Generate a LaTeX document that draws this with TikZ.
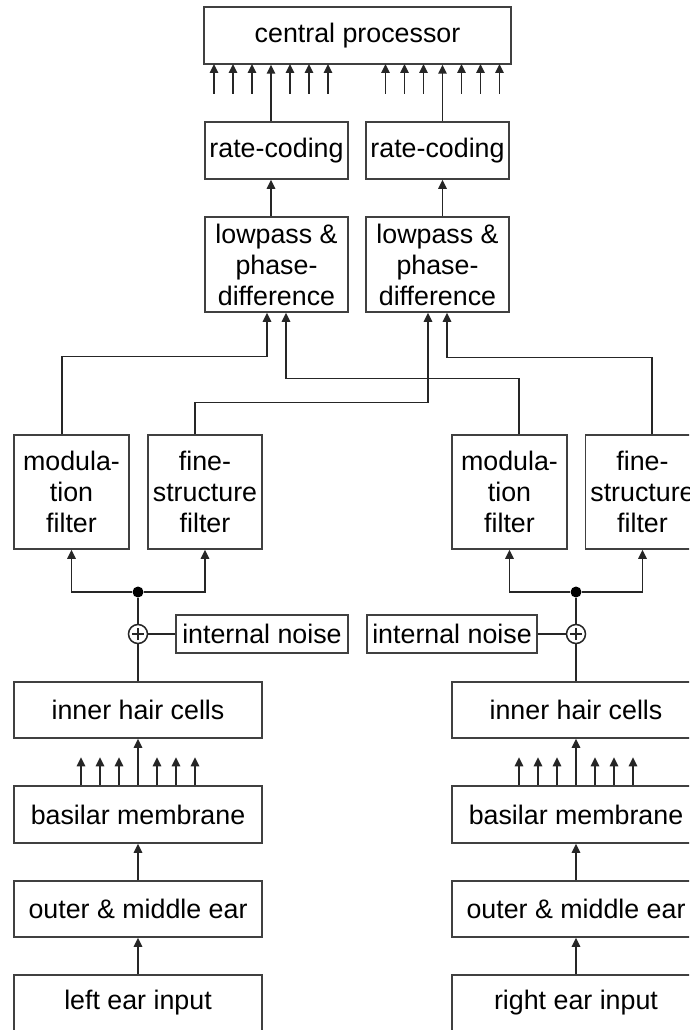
\documentclass[tikz,border=0pt]{standalone}
\usepackage{fontspec}
\setmainfont{Liberation Sans}
\usetikzlibrary{arrows.meta}

\begin{document}
\begin{tikzpicture}[x=1pt,y=-1pt,line width=1.5pt,
  every node/.style={font=\fontsize{26.8}{31}\selectfont,inner sep=0pt},
  block/.style={draw=black!75,minimum height=#1,align=center},
  block/.default=57pt,
  sig/.style={draw=black!85,-{Triangle[length=9pt,width=8.5pt]}},
  wire/.style={draw=black!85},
  adder/.style={circle,draw=black!85,minimum size=19pt,
    path picture={\draw[line width=1.4pt] (path picture bounding box.center) ++(-6pt,0) -- ++(12pt,0)
      (path picture bounding box.center) ++(0,-6pt) -- ++(0,12pt);}},
  joint/.style={circle,fill=black,minimum size=11pt}]
\path[use as bounding box,fill=white] (0,0) rectangle (689,1030);
\clip (0,0) rectangle (689,1030);

\node[block,minimum width=307pt] (cp) at (357.5,35.5) {central processor};
\node[block,minimum width=143pt] (rcL) at (276.5,150.5) {rate-coding};
\node[block,minimum width=143pt] (rcR) at (437.5,150.5) {rate-coding};
\node[block=95pt,minimum width=143pt] (lpL) at (276.5,264.5) {lowpass \&\\phase-\\difference};
\node[block=95pt,minimum width=143pt] (lpR) at (437.5,264.5) {lowpass \&\\phase-\\difference};
\node[block=114pt,minimum width=115pt] (modL) at (71.5,492) {modula-\\tion\\filter};
\node[block=114pt,minimum width=114pt] (fsL) at (205,492) {fine-\\structure\\filter};
\node[block=114pt,minimum width=115pt] (modR) at (509.5,492) {modula-\\tion\\filter};
\node[block=114pt,minimum width=114pt] (fsR) at (642.5,492) {fine-\\structure\\filter};
\node[joint] (dotL) at (138,592) {};
\node[joint] (dotR) at (576,592) {};
\node[adder] (addL) at (138,634) {};
\node[adder] (addR) at (576,634) {};
\node[block=38pt,minimum width=172pt] (noiseL) at (262,634) {internal noise};
\node[block=38pt,minimum width=170pt] (noiseR) at (452,634) {internal noise};
\node[block=56pt,minimum width=248pt] (ihcL) at (138,710) {inner hair cells};
\node[block=56pt,minimum width=248pt] (ihcR) at (576,710) {inner hair cells};
\node[block,minimum width=248pt] (bmL) at (138,814.5) {basilar membrane};
\node[block,minimum width=248pt] (bmR) at (576,814.5) {basilar membrane};
\node[block=56pt,minimum width=248pt] (omL) at (138,909) {outer \& middle ear};
\node[block=56pt,minimum width=248pt] (omR) at (576,909) {outer \& middle ear};
\node[block=56pt,minimum width=248pt] (inL) at (138,1003) {left ear input};
\node[block=56pt,minimum width=248pt] (inR) at (576,1003) {right ear input};
\coordinate (tapL) at (271,94);
\coordinate (tapR) at (442.5,94);

\draw[sig] (inL) -- (omL);
\draw[sig] (omL) -- (bmL);
\draw[sig] (bmL) -- (ihcL);
\draw[sig] (inR) -- (omR);
\draw[sig] (omR) -- (bmR);
\draw[sig] (bmR) -- (ihcR);
\foreach \k in {-3,-2,-1,1,2,3} {
  \draw[sig] ([xshift=\k*19]bmL.north) -- ++(0,-28);
  \draw[sig] ([xshift=\k*19]bmR.north) -- ++(0,-28);
  \draw[sig] ([xshift=\k*19]tapL) -- ++(0,-30);
  \draw[sig] ([xshift=\k*19]tapR) -- ++(0,-30);
}
\draw[wire] (ihcL) -- (addL) -- (dotL);
\draw[wire] (ihcR) -- (addR) -- (dotR);
\draw[wire] (noiseL) -- (addL);
\draw[wire] (noiseR) -- (addR);
\draw[sig] (dotL) -| (modL);
\draw[sig] (dotL) -| (fsL);
\draw[sig] (dotR) -| (modR);
\draw[sig] (dotR) -| (fsR);
\draw[sig] ([xshift=-9.5]modL.north) -- ++(0,-78) -| ([xshift=-9.5]lpL.south);
\draw[sig] ([xshift=9.5]modR.north) -- ++(0,-56) -| ([xshift=9.5]lpL.south);
\draw[sig] ([xshift=-10]fsL.north) -- ++(0,-32) -| ([xshift=-9.5]lpR.south);
\draw[sig] ([xshift=9.5]fsR.north) -- ++(0,-77) -| ([xshift=9.5]lpR.south);
\draw[sig] ([xshift=-5.5]lpL.north) -- ([xshift=-5.5]rcL.south);
\draw[sig] ([xshift=5]lpR.north) -- ([xshift=5]rcR.south);
\draw[sig] ([xshift=-5.5]rcL.north) -- (tapL |- cp.south);
\draw[sig] ([xshift=5]rcR.north) -- (tapR |- cp.south);
\end{tikzpicture}
\end{document}
